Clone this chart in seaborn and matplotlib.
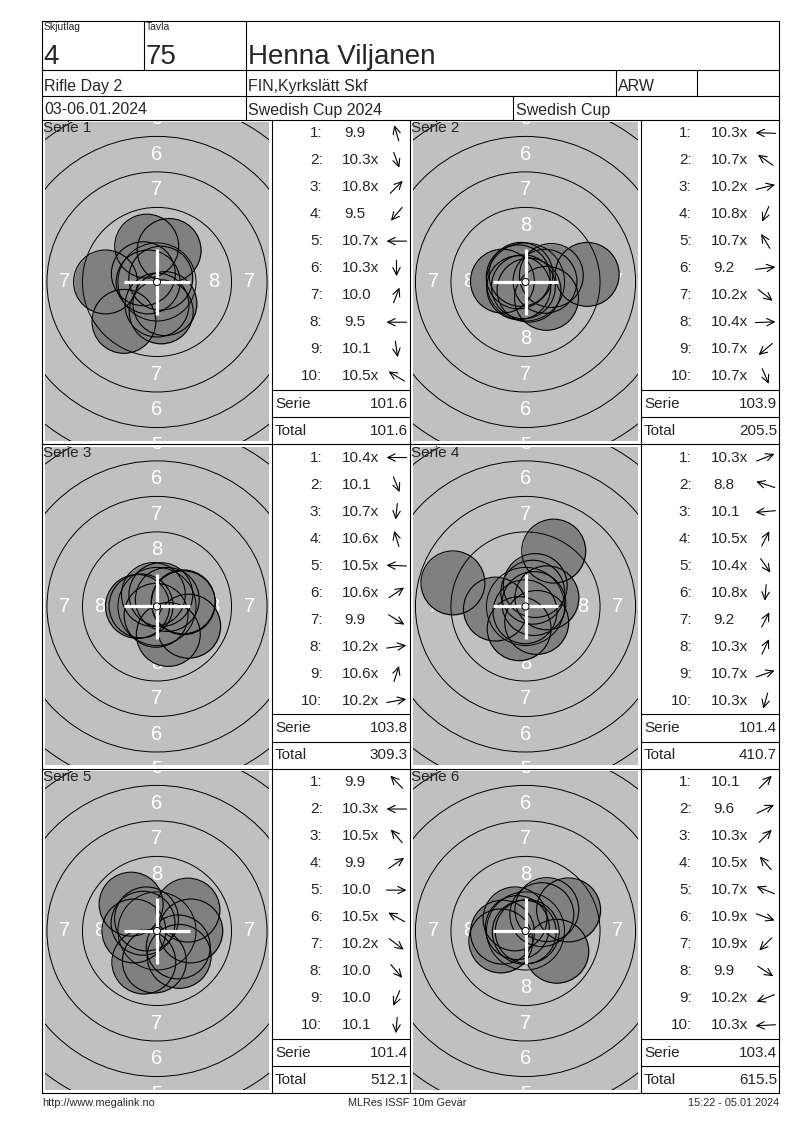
import numpy as np
import pandas as pd
import matplotlib
matplotlib.use("Agg")
import matplotlib.pyplot as plt
from matplotlib.patches import Circle
import seaborn as sns

# header texts
SKJUTLAG = "4"
TAVLA = "75"
SHOOTER = "Henna Viljanen"
EVENT = "Rifle Day 2"
CLUB = "FIN,Kyrkslätt Skf"
CLASS_NAME = "ARW"
DATES = "03-06.01.2024"
COMPETITION = "Swedish Cup 2024"
CUP = "Swedish Cup"
FOOTER = ["http://www.megalink.no", "MLRes ISSF 10m Gevär", "15:22 - 05.01.2024"]

# shots per serie (score label, direction of the shot in degrees, 0 = right, 90 = up)
SERIE_1 = ["9.9", "10.3x", "10.8x", "9.5", "10.7x", "10.3x", "10.0", "9.5", "10.1", "10.5x"]
DIR_1 = [106, -70, 45, -130, 180, -90, 69, 180, -82, 149]
SERIE_2 = ["10.3x", "10.7x", "10.2x", "10.8x", "10.7x", "9.2", "10.2x", "10.4x", "10.7x", "10.7x"]
DIR_2 = [178, 145, 14, -114, 121, 7, -38, 2, -140, -67]
SERIE_3 = ["10.4x", "10.1", "10.7x", "10.6x", "10.5x", "10.6x", "9.9", "10.2x", "10.6x", "10.2x"]
DIR_3 = [180, -68, -96, 107, 178, 34, -32, 8, 72, 10]
SERIE_4 = ["10.3x", "8.8", "10.1", "10.5x", "10.4x", "10.8x", "9.2", "10.3x", "10.7x", "10.3x"]
DIR_4 = [22, 162, 185, 63, -55, -95, 63, 65, 19, -106]
SERIE_5 = ["9.9", "10.3x", "10.5x", "9.9", "10.0", "10.5x", "10.2x", "10.0", "10.0", "10.1"]
DIR_5 = [134, 180, 131, 34, 0, 151, -37, -49, -113, -95]
SERIE_6 = ["10.1", "9.6", "10.3x", "10.5x", "10.7x", "10.9x", "10.9x", "9.9", "10.2x", "10.3x"]
DIR_6 = [45, 26, 45, 131, 158, -20, -135, -33, -158, 183]

SERIE_SUMS = ["101.6", "103.9", "103.8", "101.4", "101.4", "103.4"]
TOTALS = ["101.6", "205.5", "309.3", "410.7", "512.1", "615.5"]

SERIES = [SERIE_1, SERIE_2, SERIE_3, SERIE_4, SERIE_5, SERIE_6]
DIRS = [DIR_1, DIR_2, DIR_3, DIR_4, DIR_5, DIR_6]

RING_RADII = [2.75, 5.25, 7.75, 10.25, 12.75, 15.25]   # mm, rings 9..4
ZONE_LABELS = ["8", "7", "6", "5"]
ZONE_MID = [4.0, 6.5, 9.0, 11.5]
PELLET_R = 2.25

GRAY = "#c0c0c0"
SHOT_GRAY = "#808080"
PX = 14.2   # pixels per mm

sns.set_theme(style="white")
plt.rcParams["font.family"] = ["Liberation Sans", "DejaVu Sans"]

W, H = 800, 1130
fig = plt.figure(figsize=(W / 100, H / 100), dpi=100)
page = fig.add_axes([0, 0, 1, 1])
page.set_xlim(0, W)
page.set_ylim(H, 0)
page.axis("off")
page.set_zorder(10)

LW = 0.8


def hline(y, x0, x1):
    page.plot([x0, x1], [y, y], color="black", lw=LW, solid_capstyle="projecting")


def vline(x, y0, y1):
    page.plot([x, x], [y0, y1], color="black", lw=LW, solid_capstyle="projecting")


L, R = 42, 779
TOP, Y1, Y2, PT = 20.5, 70, 95.5, 119.7
ROW_H = 324.5
BOTTOM = PT + 3 * ROW_H
CELLS = [(42, 272, 410), (410, 641, 779)]

# header grid
for y in [TOP, Y1, Y2]:
    hline(y, L, R)
for k in range(4):
    hline(PT + k * ROW_H, L, R)
vline(L, TOP, BOTTOM)
vline(R, TOP, BOTTOM)
vline(144, TOP, Y1)
vline(246, TOP, PT)
vline(616, Y1, Y2)
vline(697, Y1, Y2)
vline(513, Y2, PT)
for x in [272, 410, 641]:
    vline(x, PT, BOTTOM)

page.text(44, 22, "Skjutlag", fontsize=7.5, va="top")
page.text(146, 22, "Tavla", fontsize=7.5, va="top")
page.text(43.5, 63.5, SKJUTLAG, fontsize=20, va="baseline")
page.text(146, 63.5, TAVLA, fontsize=20, va="baseline")
page.text(248, 63.5, SHOOTER, fontsize=20, va="baseline")
page.text(44, 91, EVENT, fontsize=11.5, va="baseline")
page.text(248, 91, CLUB, fontsize=11.5, va="baseline")
page.text(618, 91, CLASS_NAME, fontsize=11.5, va="baseline")
page.text(44, 114.5, DATES, fontsize=11.5, va="baseline")
page.text(248, 114.5, COMPETITION, fontsize=11.5, va="baseline")
page.text(516, 114.5, CUP, fontsize=11.5, va="baseline")

narrow = ["Liberation Sans Narrow", "Liberation Sans"]
page.text(42, 1103, FOOTER[0], fontsize=7.8, va="center", ha="left", family=narrow)
page.text(407, 1103, FOOTER[1], fontsize=7.8, va="center", ha="center", family=narrow)
page.text(779, 1103, FOOTER[2], fontsize=7.8, va="center", ha="right", family=narrow)


def shot_positions(labels, angles):
    vals = np.array([float(s.rstrip("x")) for s in labels])
    d = (10.95 - vals) * 2.5
    a = np.radians(angles)
    return pd.DataFrame({"x": d * np.cos(a), "y": d * np.sin(a), "shot": np.arange(1, 11)})


shot_s = (2 * PELLET_R * PX * 0.72) ** 2

for i, (labels, angles) in enumerate(zip(SERIES, DIRS)):
    r, c = divmod(i, 2)
    cl, cm, cr = CELLS[c]
    top = PT + r * ROW_H
    cx = (cl + cm) / 2
    cy = top + ROW_H / 2
    gl, gr, gt, gb = cl + 3, cm - 3, top + 2.5, top + ROW_H - 3.5

    ax = fig.add_axes([gl / W, 1 - gb / H, (gr - gl) / W, (gb - gt) / H])
    xlim = ((gl - cx) / PX, (gr - cx) / PX)
    ylim = ((cy - gb) / PX, (cy - gt) / PX)
    ax.set_xlim(*xlim)
    ax.set_ylim(*ylim)
    ax.set_facecolor(GRAY)
    for sp in ax.spines.values():
        sp.set_visible(False)
    ax.set_xticks([])
    ax.set_yticks([])

    for rad, lab in zip(ZONE_MID, ZONE_LABELS):
        for ux, uy in [(0, 1), (0, -1), (1, 0), (-1, 0)]:
            if ux and rad > xlim[1] + 0.3:
                continue
            ax.text(ux * rad, uy * rad, lab, color="white", fontsize=14.5,
                    ha="center", va="center", clip_on=True, zorder=1)

    df = shot_positions(labels, angles)
    sns.scatterplot(data=df, x="x", y="y", s=shot_s, color=SHOT_GRAY, linewidth=0,
                    legend=False, ax=ax, zorder=2)
    for rad in RING_RADII:
        ax.add_patch(Circle((0, 0), rad, fill=False, ec="black", lw=0.7, zorder=3))
    ax.scatter(df["x"], df["y"], s=shot_s, facecolors="none", edgecolors="black",
               linewidths=0.8, zorder=4)
    ax.plot([-2.3, 2.3], [0, 0], color="white", lw=2.3, solid_capstyle="butt", zorder=5)
    ax.plot([0, 0], [-2.3, 2.3], color="white", lw=2.3, solid_capstyle="butt", zorder=5)
    ax.add_patch(Circle((0, 0), 0.25, fc="white", ec="black", lw=0.7, zorder=6))
    ax.set_xlabel("")
    ax.set_ylabel("")

    page.text(cl + 1, top + 8.5, f"Serie {i + 1}", fontsize=11, va="center", ha="left")

    # score column
    for k, (lab, ang) in enumerate(zip(labels, angles)):
        y = top + 13.3 + 27.03 * k
        page.text(cm + 50.5, y, f"{k + 1}:", fontsize=11, ha="right", va="center")
        x_off = 69.7 if float(lab.rstrip("x")) >= 10 else 72.3
        page.text(cm + x_off, y, lab, fontsize=11, ha="left", va="center")
        a = np.radians(ang)
        ea, eb = 10.0, 8.0
        rr = ea * eb / np.hypot(eb * np.cos(a), ea * np.sin(a))
        ax_c = cm + 124.5
        dx, dy = rr * np.cos(a), -rr * np.sin(a)
        page.annotate("", xy=(ax_c + dx, y + dy), xytext=(ax_c - dx, y - dy),
                      arrowprops=dict(arrowstyle="->,head_length=0.45,head_width=0.22",
                                      lw=0.8, color="black", shrinkA=0, shrinkB=0))

    hline(top + 270, cm, cr)
    hline(top + 297.6, cm, cr)
    page.text(cm + 3, top + 284, "Serie", fontsize=11, va="center")
    page.text(cr - 2, top + 284, SERIE_SUMS[i], fontsize=11, va="center", ha="right")
    page.text(cm + 3, top + 311, "Total", fontsize=11, va="center")
    page.text(cr - 2, top + 311, TOTALS[i], fontsize=11, va="center", ha="right")

fig.savefig("out.png", dpi=100, facecolor="white")
